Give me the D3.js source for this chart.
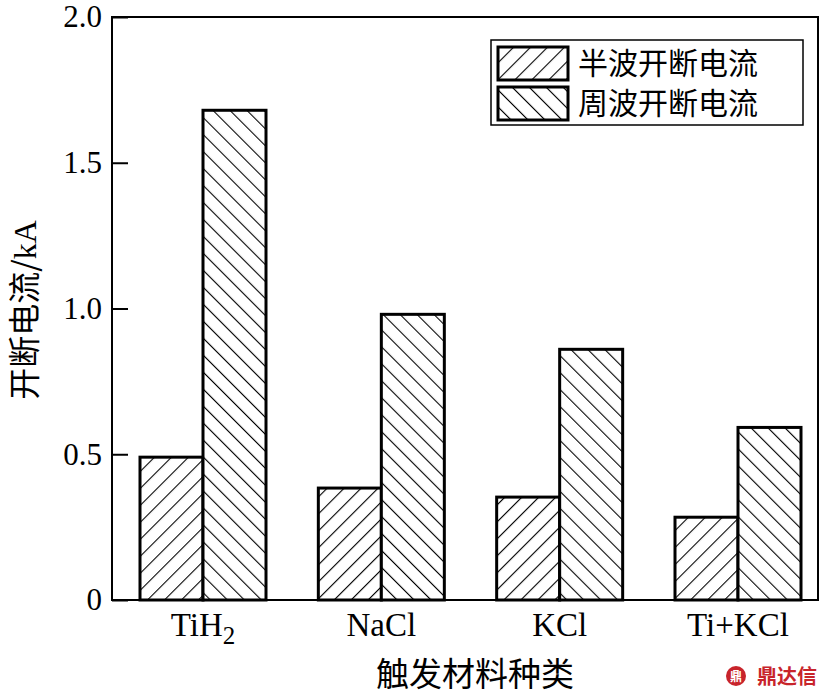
<!DOCTYPE html>
<html><head><meta charset="utf-8">
<script src="https://cdn.jsdelivr.net/npm/d3@7/dist/d3.min.js"></script>
<style>body{margin:0;background:#fff}</style>
</head><body>
<svg id="c" width="829" height="699"></svg>
<script>
const categories = ["TiH2", "NaCl", "KCl", "Ti+KCl"];
const seriesNames = ["半波开断电流", "周波开断电流"];
const halfWave = [0.49, 0.384, 0.353, 0.284];
const fullWave = [1.68, 0.98, 0.86, 0.592];
const yTicks = [0, 0.5, 1.0, 1.5, 2.0];

const svg = d3.select("#c");
const L = 112, R = 818, T = 17, B = 600;
const serif = "Liberation Serif, Times New Roman, serif";
const cjk = "Noto Sans CJK SC, sans-serif";

const y = d3.scaleLinear().domain([0, 2.0]).range([B, T]);
const x = d3.scalePoint().domain(categories).range([203, 738]);
const bw = 63;

const defs = svg.append("defs");
function hatch(id, rot) {
  const p = defs.append("pattern").attr("id", id).attr("patternUnits", "userSpaceOnUse")
    .attr("width", 12).attr("height", 12).attr("patternTransform", `rotate(${rot})`);
  p.append("rect").attr("width", 12).attr("height", 12).attr("fill", "#fff");
  p.append("line").attr("x1", 0).attr("y1", 0).attr("x2", 0).attr("y2", 12)
    .attr("stroke", "#000").attr("stroke-width", 2.2);
}
hatch("h1", 45);
hatch("h2", -45);

// bars
const g = svg.append("g");
g.selectAll(".half").data(categories).enter().append("rect")
  .attr("x", d => x(d) - bw).attr("y", (d, i) => y(halfWave[i]))
  .attr("width", bw).attr("height", (d, i) => y(0) - y(halfWave[i]))
  .attr("fill", "url(#h1)").attr("stroke", "#000").attr("stroke-width", 3);
g.selectAll(".full").data(categories).enter().append("rect")
  .attr("x", d => x(d)).attr("y", (d, i) => y(fullWave[i]))
  .attr("width", bw).attr("height", (d, i) => y(0) - y(fullWave[i]))
  .attr("fill", "url(#h2)").attr("stroke", "#000").attr("stroke-width", 3);

// frame
svg.append("rect").attr("x", L).attr("y", T).attr("width", R - L).attr("height", B - T)
  .attr("fill", "none").attr("stroke", "#000").attr("stroke-width", 2);

// y axis
const yAxis = d3.axisLeft(y).tickValues(yTicks).tickSize(-16).tickPadding(10)
  .tickFormat(d => d === 0 ? "0" : d3.format(".1f")(d));
const ya = svg.append("g").attr("transform", `translate(${L},0)`).call(yAxis);
ya.attr("font-family", null).attr("font-size", null);
ya.select(".domain").remove();
ya.selectAll(".tick line").attr("stroke", "#000").attr("stroke-width", 2);
ya.selectAll(".tick text").style("font-family", serif).style("font-size", "31px").attr("fill", "#000");

// x labels
const xl = svg.append("g");
categories.forEach(c => {
  const t = xl.append("text").attr("x", x(c)).attr("y", 636).attr("text-anchor", "middle")
    .style("font-family", serif).style("font-size", "33px").attr("fill", "#000");
  if (c === "TiH2") {
    t.append("tspan").text("TiH");
    t.append("tspan").text("2").style("font-size", "25px").attr("dy", 8);
  } else t.text(c);
});

// axis titles
svg.append("text").attr("x", 475).attr("y", 686).attr("text-anchor", "middle")
  .style("font-family", cjk).style("font-size", "33px").attr("fill", "#000").text("触发材料种类");
const yt = svg.append("text").attr("transform", "translate(36,310) rotate(-90)").attr("text-anchor", "middle")
  .style("font-family", cjk).style("font-size", "32px").attr("fill", "#000");
yt.append("tspan").text("开断电流/");
yt.append("tspan").style("font-family", serif).text("kA");

// legend
const lg = svg.append("g");
lg.append("rect").attr("x", 491).attr("y", 40).attr("width", 312).attr("height", 85)
  .attr("fill", "#fff").attr("stroke", "#000").attr("stroke-width", 1.5);
["url(#h1)", "url(#h2)"].forEach((f, i) => {
  lg.append("rect").attr("x", 498).attr("y", 47 + i * 40).attr("width", 70).attr("height", 33)
    .attr("fill", f).attr("stroke", "#000").attr("stroke-width", 3);
  lg.append("text").attr("x", 578).attr("y", 74 + i * 40).style("font-family", cjk)
    .style("font-size", "30px").attr("fill", "#000").text(seriesNames[i]);
});

// watermark
const wm = svg.append("g");
wm.append("circle").attr("cx", 736).attr("cy", 676).attr("r", 10).attr("fill", "#c8242b");
wm.append("text").attr("x", 736).attr("y", 681).attr("text-anchor", "middle").style("font-size", "12px")
  .style("font-family", cjk).style("font-weight", "bold").attr("fill", "#fff").text("鼎");
wm.append("text").attr("x", 757).attr("y", 684).style("font-family", cjk).style("font-weight", "bold")
  .style("font-size", "20px").attr("fill", "#c8242b").text("鼎达信");
</script>
</body></html>
